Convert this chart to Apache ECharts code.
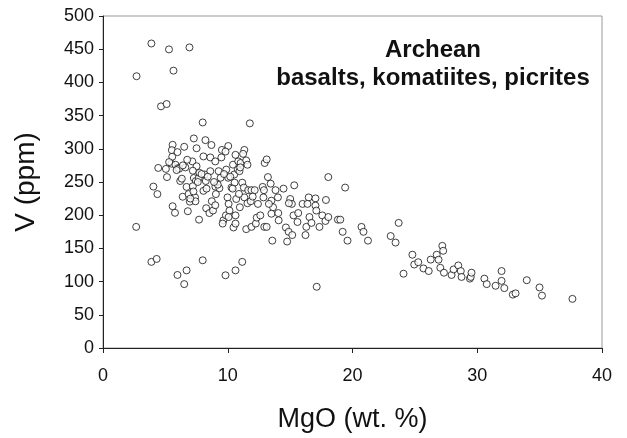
<!DOCTYPE html>
<html><head><meta charset="utf-8">
<script src="https://cdn.jsdelivr.net/npm/echarts@6/dist/echarts.min.js"></script>
<style>html,body{margin:0;padding:0;background:#fff}#c{width:627px;height:438px}</style>
</head><body><div id="c"></div>
<script>
const mgo = [3.88,5.29,6.93,2.69,5.65,4.65,5.10,7.99,11.77,2.66,4.04,4.36,4.43,5.13,5.04,3.88,4.30,5.97,6.70,6.51,7.99,9.82,10.62,11.16,17.13,
5.58,5.52,5.97,6.51,5.55,5.49,5.81,6.03,6.19,6.32,6.39,5.58,5.77,6.80,6.70,6.86,6.96,7.38,7.41,7.70,7.28,7.5,7.16,6.75,7.5,7.2,7.28,7.44,7.2,7.25,7.67,7.73,8.05,8.21,8.15,8.24,8.05,8.27,8.53,8.6,8.69,9.0,9.01,9.05,8.72,8.82,8.6,9.27,9.49,9.53,9.33,9.43,9.65,9.59,9.85,10.04,9.82,9.88,10.04,9.98,10.07,10.14,10.07,10.3,10.42,10.52,10.55,10.39,10.46,10.62,10.62,10.62,10.81,10.84,10.94,11.03,10.68,10.97,11.16,11.29,11.33,11.23,11.48,11.58,11.33,11.64,11.58,11.9,12.16,11.84,11.48,11.9,12.25,12.32,12.42,12.61,12.8,12.9,12.96,13.12,12.86,12.93,13.12,13.22,13.44,13.5,13.63,13.5,13.57,13.83,14.02,14.05,14.08,14.47,14.66,14.76,14.88,15.01,15.14,15.17,15.27,15.33,15.59,15.65,16.0,16.49,16.39,16.3,16.23,16.55,16.71,17.03,17.03,17.1,17.35,17.58,17.83,17.87,18.06,18.06,18.83,19.02,19.21,19.41,19.6,20.72,20.88,21.24,23.06,23.45,23.7,24.09,
24.8,24.95,25.27,25.69,26.11,26.27,26.75,26.9,27.2,27.27,27.04,27.33,27.94,28.1,28.48,28.68,28.74,29.41,29.48,29.54,30.57,30.76,31.47,31.95,31.95,32.17,32.85,33.07,33.97,34.99,35.19,37.63,
5.3,6.1,6.6,7.9,8.4,9.2,9.7,10.2,11.0,8.9,7.6,6.4,5.9,9.0,10.9,12.0,13.3,14.9,8.3,7.0];
const vppm = [458.6,449.7,452.7,409.3,417.7,363.9,367.4,339.7,338.3,182.4,243.1,231.8,271.2,257.4,269.7,129.7,134.1,110,116.9,96.2,132.1,109.5,116.9,129.7,92.2,
306,298,295,303,288,277.6,276,271,251.5,255,227.8,213.5,203.6,206,242.6,231.8,220.4,226.8,220.9,193.3,315.6,300.8,281,283.5,273.7,267,256,251.5,243.6,235.7,256,263.8,288.5,313,261.3,251.5,236.7,210.5,203.2,287,305.7,281,243,231.8,221,207,266.3,266.3,287,298.3,240.6,256.4,192.3,187.4,199.7,304.2,295.9,268.7,256.4,226.8,217,207,197.2,241.6,276.1,261.3,249,240,181.5,199.7,187.4,290.9,268.7,281,266.3,278.6,224.4,212,249,241.6,298.3,292.4,282.5,276,226.8,237.7,218,237.7,237.7,221,179,182.4,187.4,196.3,217,199.7,242.6,237.7,278.6,284,226.8,182.4,182.4,257.4,247.5,221.9,212,202.2,161.7,237.7,226.8,203.2,192.3,240,181.5,160.3,175,224.4,217,170.1,199.7,245,189.8,203.2,217,226.8,217,182.4,170.1,197.2,188.4,225.3,214.5,207,182.4,199.7,191.3,222.9,257.4,197.2,193.3,193.3,175,241.6,161.7,182.4,175,161.7,168.6,158.8,188.4,111.9,
140.5,125.7,129.2,119.8,115.9,133.1,140.5,133,153.8,146.4,120.8,113.4,110,118.3,124.3,115.9,107,104.5,107,113.4,104.5,96.2,93.7,115.9,101.1,90.2,80.4,82.3,102.1,91.2,78.9,74,
280,270,272,262,258,246,262,258,272,250,250,275,268,215,232,228,217,218,240,225];
const xTicks = [0,10,20,30,40];
const yTicks = [0,50,100,150,200,250,300,350,400,450,500];
const titleLines = ['Archean','basalts, komatiites, picrites'];

const data = mgo.map((x,i)=>[x, vppm[i]]);
const chart = echarts.init(document.getElementById('c'), null, {renderer:'canvas'});
const font = 'Liberation Sans, Arial, sans-serif';
chart.setOption({
  animation:false,
  backgroundColor:'#fff',
  grid:{left:103,right:25,top:16,bottom:85,show:true,borderColor:'#999',borderWidth:1},
  xAxis:{type:'value',min:xTicks[0],max:xTicks[xTicks.length-1],interval:10,
    name:'MgO (wt. %)',nameLocation:'middle',nameGap:58,
    nameTextStyle:{fontFamily:font,fontSize:27,color:'#111'},
    axisLine:{show:true,lineStyle:{color:'#222',width:1}},
    axisTick:{show:true,length:5,lineStyle:{color:'#222'}},
    axisLabel:{fontFamily:font,fontSize:18,color:'#111',margin:19},
    splitLine:{show:false}},
  yAxis:{type:'value',min:yTicks[0],max:yTicks[yTicks.length-1],interval:50,
    name:'V (ppm)',nameLocation:'middle',nameGap:63,
    nameTextStyle:{fontFamily:font,fontSize:28,color:'#111'},
    axisLine:{show:true,lineStyle:{color:'#222',width:1}},
    axisTick:{show:true,length:4,lineStyle:{color:'#222'}},
    axisLabel:{fontFamily:font,fontSize:18,color:'#111',margin:9},
    splitLine:{show:false}},
  graphic:[
    {type:'text',x:433,y:50,style:{text:titleLines[0],fontFamily:font,fontSize:24,fontWeight:'bold',fill:'#111',textAlign:'center',textVerticalAlign:'middle'}},
    {type:'text',x:433,y:78,style:{text:titleLines[1],fontFamily:font,fontSize:24,fontWeight:'bold',fill:'#111',textAlign:'center',textVerticalAlign:'middle'}}
  ],
  series:[{type:'scatter',data:data,symbol:'circle',symbolSize:7,
    itemStyle:{color:'#fff',borderColor:'#111',borderWidth:1}}]
});
</script></body></html>
